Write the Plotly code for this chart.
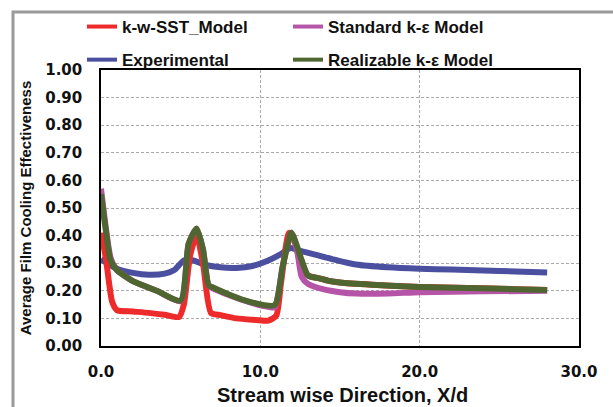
import plotly.graph_objects as go

# ---- data ----
sst_x = [0, 0.3, 0.7, 1.0, 2, 3, 4, 4.9, 5.2, 5.6, 6.0, 6.4, 6.9, 7.5, 8.5, 9.5, 10.5, 11.0, 11.3, 11.8, 12.2, 12.6, 13.0, 13.7, 14.3, 15, 17, 20, 23, 26, 28]
sst_y = [0.41, 0.32, 0.16, 0.13, 0.125, 0.12, 0.113, 0.105, 0.15, 0.33, 0.40, 0.30, 0.12, 0.112, 0.10, 0.095, 0.092, 0.11, 0.23, 0.41, 0.37, 0.28, 0.255, 0.245, 0.236, 0.23, 0.222, 0.214, 0.21, 0.206, 0.203]

std_x = [0, 0.3, 0.6, 1.0, 2, 3.5, 5.0, 5.5, 6.0, 6.4, 6.75, 7.0, 8.1, 9.35, 10.5, 10.9, 11.4, 11.95, 12.3, 12.6, 13.0, 14, 15, 16, 18, 20, 24, 28]
std_y = [0.57, 0.43, 0.32, 0.275, 0.235, 0.20, 0.163, 0.37, 0.425, 0.35, 0.22, 0.21, 0.183, 0.158, 0.142, 0.14, 0.287, 0.41, 0.35, 0.25, 0.225, 0.205, 0.195, 0.19, 0.19, 0.195, 0.198, 0.20]

exp_x = [0, 1, 2, 3, 4, 4.6, 5.2, 5.8, 6.5, 7.5, 8.5, 9.5, 10.5, 11.2, 11.9, 12.5, 13.5, 14.5, 16, 18, 20, 22, 24, 26, 28]
exp_y = [0.315, 0.28, 0.265, 0.258, 0.262, 0.275, 0.31, 0.31, 0.295, 0.285, 0.283, 0.29, 0.31, 0.33, 0.355, 0.345, 0.33, 0.315, 0.295, 0.285, 0.28, 0.277, 0.274, 0.27, 0.266]

rke_x = [0, 0.3, 0.6, 1.0, 2, 3.5, 5.0, 5.5, 6.0, 6.4, 6.75, 7.0, 8.1, 9.35, 10.9, 11.4, 11.95, 12.6, 13.0, 13.7, 14.3, 15, 17, 20, 23, 26, 28]
rke_y = [0.55, 0.42, 0.31, 0.275, 0.235, 0.20, 0.165, 0.37, 0.426, 0.35, 0.22, 0.213, 0.185, 0.16, 0.148, 0.287, 0.41, 0.31, 0.255, 0.245, 0.236, 0.23, 0.222, 0.214, 0.21, 0.206, 0.203]

names = ["k-w-SST_Model", "Standard k-ε Model", "Experimental", "Realizable k-ε Model"]
colors = {"k-w-SST_Model": "#ee2b2b", "Standard k-ε Model": "#b655a8",
          "Experimental": "#4a4f9f", "Realizable k-ε Model": "#4f6631"}

x_ticks = [0, 10, 20, 30]
y_ticks = [0, 0.1, 0.2, 0.3, 0.4, 0.5, 0.6, 0.7, 0.8, 0.9, 1.0]
x_title = "Stream wise Direction, X/d"
y_title = "Average Film Cooling Effectiveness"

ARIAL = "Arial, 'Liberation Sans', sans-serif"
DEJA = "'DejaVu Sans', sans-serif"

fig = go.Figure()
series = [("Experimental", exp_x, exp_y), ("k-w-SST_Model", sst_x, sst_y),
          ("Standard k-ε Model", std_x, std_y), ("Realizable k-ε Model", rke_x, rke_y)]
for nm, xs, ys in series:
    fig.add_trace(go.Scatter(x=xs, y=ys, mode="lines", name=nm, showlegend=False,
                             line=dict(color=colors[nm], width=6, shape="spline", smoothing=0.6)))

# legend entries (thinner sample lines, as in the reference)
leg_of = {"k-w-SST_Model": ("legend", 1), "Experimental": ("legend", 2),
          "Standard k-ε Model": ("legend2", 1), "Realizable k-ε Model": ("legend2", 2)}
for nm in names:
    lg, rk = leg_of[nm]
    fig.add_trace(go.Scatter(x=[None], y=[None], mode="lines", name=nm,
                             line=dict(color=colors[nm], width=4),
                             legend=lg, legendrank=rk, legendgroup=nm))

W, H = 613, 407
L, R, T, B = 101, 579, 70, 346
pw, ph = R - L, B - T

def px(xp):
    return (xp - L) / pw

def py(yp):
    return (B - yp) / ph

legfont = dict(family=ARIAL, size=17, color="#111", weight="bold")
tickfont = dict(family=DEJA, size=15, color="#111", weight="bold")
fig.update_layout(
    width=W, height=H,
    margin=dict(l=L, r=W - R, t=T, b=H - B, autoexpand=False),
    paper_bgcolor="white", plot_bgcolor="white",
    font=dict(family=ARIAL, color="#111"),
    legend=dict(x=px(82), y=py(9), xanchor="left", yanchor="top", font=legfont,
                bgcolor="rgba(0,0,0,0)", tracegroupgap=8, itemwidth=30),
    legend2=dict(x=px(288), y=py(9), xanchor="left", yanchor="top", font=legfont,
                 bgcolor="rgba(0,0,0,0)", tracegroupgap=8, itemwidth=30),
    xaxis=dict(range=[0, 30], tickvals=x_ticks, tickformat=".1f", automargin=True,
               showgrid=True, gridcolor="#aaaaaa", griddash="3px,2px", gridwidth=1,
               showline=True, linecolor="black", linewidth=1.5, mirror=True,
               ticks="outside", ticklen=11, tickcolor="rgba(0,0,0,0)",
               tickfont=tickfont, zeroline=False),
    yaxis=dict(range=[0, 1.0], tickvals=y_ticks, tickformat=".2f", automargin=True,
               showgrid=True, gridcolor="#aaaaaa", griddash="3px,2px", gridwidth=1,
               showline=True, linecolor="black", linewidth=1.5, mirror=True,
               ticks="outside", ticklen=14, tickcolor="rgba(0,0,0,0)",
               tickfont=tickfont,
               title=dict(text=y_title, standoff=10,
                          font=dict(family=ARIAL, size=15, color="#111", weight="bold")),
               zeroline=False),
)

fig.add_annotation(text=x_title, xref="paper", yref="paper", x=px(342), y=py(395),
                   xanchor="center", yanchor="middle", showarrow=False, borderpad=0,
                   font=dict(family=ARIAL, size=20, color="#111", weight="bold"))

# outer gray frame (partially outside the canvas, as in the reference)
fig.add_shape(type="rect", xref="paper", yref="paper",
              x0=px(13), x1=px(640), y0=py(430), y1=py(12),
              line=dict(color="#9a9a9a", width=3), layer="below")

fig.write_html("out.html")
